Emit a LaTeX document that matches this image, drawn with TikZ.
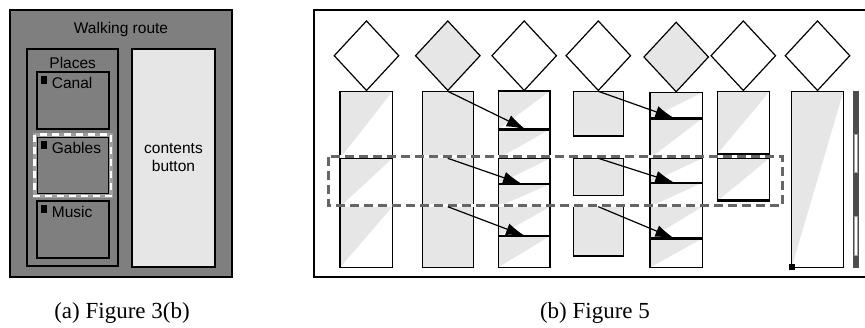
\documentclass[tikz,border=0pt]{standalone}
\usepackage{fontspec}
\setmainfont{Liberation Serif}
\setsansfont{Liberation Sans}
\usetikzlibrary{shapes.geometric,arrows.meta}
\definecolor{panelgray}{HTML}{7F7F7F}
\definecolor{pagegray}{HTML}{E6E6E6}
\definecolor{bargray}{HTML}{4D4D4D}
\definecolor{bandgray}{HTML}{666666}
\definecolor{edgegray}{HTML}{9E9E9E}
\tikzset{>={Latex[length=19pt,width=12pt]}}
\tikzset{
  box/.style={draw=black, line width=1.2pt},
  diam/.style={diamond, draw=black, line width=1.2pt, inner sep=0pt, minimum width=65pt, minimum height=70pt},
  label/.style={font=\sffamily\fontsize{15.5}{18.4}\selectfont, inner sep=0pt},
  caption/.style={font=\fontsize{23}{26}\selectfont, inner sep=0pt, anchor=base},
  jump/.style={->, line width=1.2pt},
  thickline/.style={line width=2.4pt}
}
% one page with its diagonal shading: x1, y1, x2, y2
\newcommand{\slantpage}[4]{%
  \fill[white] (#1,#2) rectangle (#3,#4);
  \fill[pagegray] (#1,#2) -- (#3,#2) -- (#1,#4) -- cycle;
  \draw[box] (#1,#2) rectangle (#3,#4);
}

\begin{document}
\begin{tikzpicture}[x=1pt,y=-1pt]
    \useasboundingbox (0,0) rectangle (865,327);
    \clip (0,0) rectangle (865,327);

    % (a) Walking route screen
    \draw[box, fill=panelgray] (10,10) rectangle (232,277);
    \node[label, anchor=base] (walk) at (121,33.3) {Walking route};
    \draw[box, fill=panelgray] (27,49) rectangle (118,266);
    \node[label, anchor=base] (places) at (72.7,68.3) {Places};
    \foreach \name/\ty in {Canal/72, Gables/137, Music/201} {
        \draw[box, fill=panelgray] (37,\ty) rectangle (109,\ty+57);
        \fill[black] (41,\ty+4.2) rectangle (46.7,\ty+11.8);
        \node[label, anchor=base west] (place-\name) at (51.7,\ty+16.8) {\name};
    }
    % focus on Gables
    \draw[edgegray, line width=4pt] (34.5,134.5) rectangle (111,196);
    \draw[white, line width=2.2pt, dash pattern=on 7pt off 5pt] (34.5,134.5) rectangle (111,196);

    \draw[box, fill=pagegray] (132,49) rectangle (215,267);
    \node[label, anchor=base] (contents) at (173.5,153.3) {contents};
    \node[label, anchor=base] (button) at (173.5,171.7) {button};

    % (b) columns of pages
    \draw[box] (314,10) rectangle (880,277);

    \foreach \ya/\yb in {91.5/158.3, 158.3/206.7, 206.7/267.5}
        \slantpage{340}{\ya}{392.3}{\yb};

    \draw[box, fill=pagegray] (422.3,91.5) rectangle (473.3,267.5);

    \foreach \ya/\yb in {91/129.3, 129.3/158.3, 158.3/184, 184/206.7, 206.7/236, 236/267.3}
        \slantpage{498.3}{\ya}{550}{\yb};
    \foreach \yt in {129.3, 184, 236}
        \draw[thickline] (498.3,\yt) -- (550,\yt);

    \foreach \ya/\yb in {91.7/136, 158.3/195.7, 206.7/256}
        \draw[box, fill=pagegray] (573.3,\ya) rectangle (623.3,\yb);

    \foreach \ya/\yb in {92.5/118.3, 118.3/158.3, 158.3/182.7, 182.7/206.7, 206.7/238.5, 238.5/267.5}
        \slantpage{650}{\ya}{702.3}{\yb};
    \foreach \yt in {118.3, 182.7, 238.5}
        \draw[thickline] (650,\yt) -- (702.3,\yt);

    \slantpage{717.3}{91.7}{769.3}{154}
    \slantpage{717.3}{158.3}{769.3}{201}
    \draw[line width=3pt] (717.3,200.5) -- (769.3,200.5);

    \slantpage{791.7}{91.7}{843.3}{267.3}
    \fill[black] (789.3,264.3) rectangle (795,269.6);

    % scroll bar
    \fill[bargray] (852.7,91) rectangle (859,267.7);
    \draw[fill=white, draw=edgegray, line width=0.5pt] (854.3,134.3) rectangle (857.4,172.7);
    \draw[fill=white, draw=edgegray, line width=0.5pt] (854.3,216) rectangle (857.4,255);

    % diamonds on top
    \foreach \n/\dx/\dy/\df in {1/366.5/55.7/white, 2/447.8/55.7/pagegray, 3/524.2/55.7/white,
        4/598.3/55.7/white, 5/676.2/57/pagegray, 6/743.3/55.7/white, 7/817.5/55.7/white}
        \node[diam, fill=\df] (d\n) at (\dx,\dy) {};

    % focus band
    \draw[white, line width=3pt] (328.3,156.7) rectangle (782.7,205);
    \draw[bandgray, line width=3pt, dash pattern=on 9pt off 5pt] (328.3,156.7) rectangle (782.7,205);

    % jumps to the next column
    \coordinate (c2a) at (447.8,158.3);
    \coordinate (c2b) at (447.8,206.7);
    \coordinate (c4a) at (598.3,158.3);
    \coordinate (c4b) at (598.3,206.7);
    \coordinate (t3a) at (525.5,129.3);
    \coordinate (t3b) at (522,184);
    \coordinate (t3c) at (525,236);
    \coordinate (t5a) at (674.3,118.3);
    \coordinate (t5b) at (674.3,182.7);
    \coordinate (t5c) at (674.3,238.5);
    \draw[jump] (d2.south) -- (t3a);
    \draw[jump] (c2a) -- (t3b);
    \draw[jump] (c2b) -- (t3c);
    \draw[jump] (d4.south) -- (t5a);
    \draw[jump] (c4a) -- (t5b);
    \draw[jump] (c4b) -- (t5c);

    % captions
    \node[caption] (capa) at (122,318) {(a) Figure 3(b)};
    \node[caption] (capb) at (595,318) {(b) Figure 5};

\end{tikzpicture}
\end{document}
